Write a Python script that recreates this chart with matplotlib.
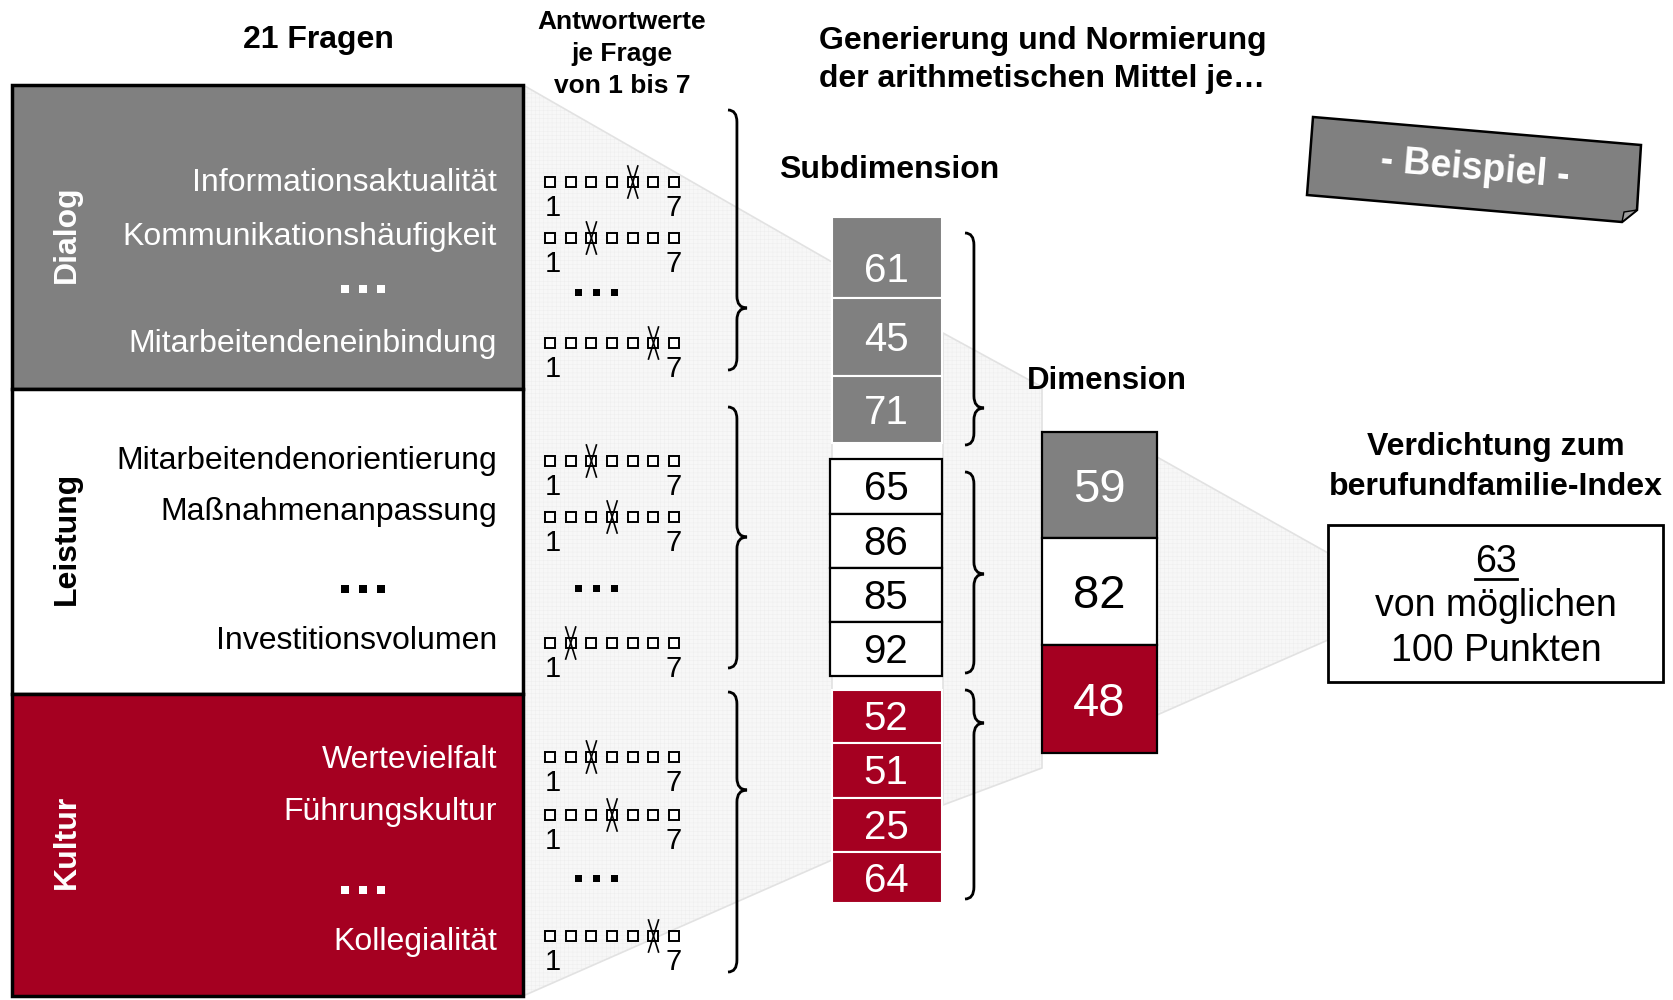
import matplotlib
matplotlib.use('Agg')
import matplotlib.pyplot as plt
from matplotlib.patches import Rectangle, Polygon, PathPatch
from matplotlib.path import Path

plt.rcParams['font.family'] = ['Liberation Sans', 'DejaVu Sans']
plt.rcParams['hatch.linewidth'] = 0.3

GREY = '#808080'
RED = '#A50021'

# --- Daten ---
gruppen = ['Dialog', 'Leistung', 'Kultur']
fragen = [
    ['Informationsaktualität', 'Kommunikationshäufigkeit', 'Mitarbeitendeneinbindung'],
    ['Mitarbeitendenorientierung', 'Maßnahmenanpassung', 'Investitionsvolumen'],
    ['Wertevielfalt', 'Führungskultur', 'Kollegialität'],
]
antworten = [[5, 3, 6], [3, 4, 2], [3, 4, 6]]   # angekreuzter Wert 1..7
subdimension = [[61, 45, 71], [65, 86, 85, 92], [52, 51, 25, 64]]
dimension = [59, 82, 48]
index_wert = 63

# --- Layout (Pixel) ---
box_y = [(85, 389), (389, 694), (694, 996)]
fill = [GREY, 'white', RED]
txt_col = ['white', 'black', 'white']
frage_y = [[183, 237, 344], [461, 512, 641], [760, 812, 942]]
dots_y = [289, 589, 890]
check_y = [[182, 238, 343], [461, 517, 643], [757, 815, 936]]
check_dots_y = [292, 588, 878]
sub_bounds = [[217, 298, 376, 443], [459, 514, 568, 622, 676], [690, 743, 798, 852, 903]]
dim_bounds = [432, 538, 645, 753]

fig = plt.figure(figsize=(16.74, 10), dpi=100)
ax = fig.add_axes([0, 0, 1, 1])
ax.set_xlim(0, 1674)
ax.set_ylim(1000, 0)
ax.axis('off')


def brace(x0, y0, y1, ytip, w=19, r=12, lw=2):
    xm = x0 + w * 0.47
    xt = x0 + w
    verts = [(x0, y0), (xm, y0), (xm, y0 + r), (xm, ytip - r),
             (xm, ytip), (xt, ytip), (xm, ytip), (xm, ytip + r),
             (xm, y1 - r), (xm, y1), (x0, y1)]
    codes = [Path.MOVETO, Path.CURVE3, Path.CURVE3, Path.LINETO,
             Path.CURVE3, Path.CURVE3, Path.CURVE3, Path.CURVE3,
             Path.LINETO, Path.CURVE3, Path.CURVE3]
    ax.add_patch(PathPatch(Path(verts, codes), fill=False, lw=lw, color='black'))


def dots(xc, yc, color, size=8, gap=18):
    for k in (-1, 0, 1):
        ax.add_patch(Rectangle((xc + k * gap - size / 2, yc - size / 2), size, size,
                               facecolor=color, edgecolor='none', zorder=5))


# Trichter im Hintergrund
trichter = [
    [(523, 85), (523, 996), (832, 860), (832, 262)],
    [(943, 333), (943, 805), (1042, 768), (1042, 387)],
    [(1157, 457), (1157, 715), (1328, 640), (1328, 553)],
]
for pts in trichter:
    ax.add_patch(Polygon(pts, facecolor='#f7f7f7', edgecolor='#ededed', hatch='++++',
                         lw=0, zorder=0))
    ax.add_patch(Polygon(pts, fill=False, edgecolor='#e2e2e2', lw=1.2, zorder=0))

# Kopfzeilen
ax.text(318, 40, '21 Fragen', ha='center', va='center', fontsize=23, fontweight='bold')
ax.text(622, 54, 'Antwortwerte\nje Frage\nvon 1 bis 7', ha='center', va='center',
        fontsize=19, fontweight='bold', linespacing=1.4)
ax.text(819, 60, 'Generierung und Normierung\nder arithmetischen Mittel je…',
        ha='left', va='center', fontsize=23, fontweight='bold', linespacing=1.38)
ax.text(889, 170, 'Subdimension', ha='center', va='center', fontsize=23, fontweight='bold')
ax.text(1107, 381, 'Dimension', ha='center', va='center', fontsize=22.5, fontweight='bold')
ax.text(1496, 467, 'Verdichtung zum\nberufundfamilie-Index', ha='center', va='center',
        fontsize=23, fontweight='bold', linespacing=1.4)

# linke Spalte: Gruppen mit Fragen
for g, name in enumerate(gruppen):
    y0, y1 = box_y[g]
    ax.add_patch(Rectangle((12, y0), 511, y1 - y0, facecolor=fill[g],
                           edgecolor='black', lw=2.5, zorder=2))
    ax.text(67, (y0 + y1) / 2 - 3, name, rotation=90, ha='center', va='center',
            fontsize=23, fontweight='bold', color=txt_col[g], zorder=3)
    for f, label in enumerate(fragen[g]):
        ax.text(497, frage_y[g][f], label, ha='right', va='center', fontsize=23,
                color=txt_col[g], zorder=3)
    dots(363, dots_y[g], txt_col[g])

    # Antwortskalen
    for f, wert in enumerate(antworten[g]):
        cy = check_y[g][f]
        for i in range(7):
            x = 545 + i * 20.7
            ax.add_patch(Rectangle((x, cy - 5), 10, 10, facecolor='white',
                                   edgecolor='black', lw=1.4, zorder=3))
        cx = 545 + (wert - 1) * 20.7 + 5
        ax.plot([cx - 5, cx + 5], [cy - 16, cy + 16], color='black', lw=1.2, zorder=4)
        ax.plot([cx + 5, cx - 5], [cy - 16, cy + 16], color='black', lw=1.2, zorder=4)
        ax.text(545, cy + 26, '1', ha='left', va='center', fontsize=21, zorder=4)
        ax.text(682, cy + 26, '7', ha='right', va='center', fontsize=21, zorder=4)
    dots(597, check_dots_y[g], 'black', size=7)

# Klammern links
brace(728, 110, 370, 308)
brace(728, 407, 668, 537)
brace(728, 692, 972, 790)

# Subdimensionen
for g in range(3):
    b = sub_bounds[g]
    for k, val in enumerate(subdimension[g]):
        if g == 1:
            ax.add_patch(Rectangle((830, b[k]), 112, b[k + 1] - b[k], facecolor='white',
                                   edgecolor='black', lw=1.6, zorder=2))
        else:
            ax.add_patch(Rectangle((832, b[k]), 110, b[k + 1] - b[k], facecolor=fill[g],
                                   edgecolor='white', lw=1.5, zorder=2))
        yt = (b[k] + b[k + 1]) / 2 + 3
        if g == 0 and k == 0:
            yt += 10
        ax.text(886, yt, str(val), ha='center', va='center',
                fontsize=29, color=txt_col[g], zorder=3)

# Klammern rechts
brace(965, 233, 445, 408)
brace(965, 472, 673, 574)
brace(965, 690, 899, 723)

# Dimensionen
for g, val in enumerate(dimension):
    y0, y1 = dim_bounds[g], dim_bounds[g + 1]
    ax.add_patch(Rectangle((1042, y0), 115, y1 - y0, facecolor=fill[g],
                           edgecolor='black', lw=1.6, zorder=2))
    ax.text(1099.5, (y0 + y1) / 2 + 5, str(val), ha='center', va='center',
            fontsize=34, color=txt_col[g], zorder=3)

# Index
ax.add_patch(Rectangle((1328, 525), 335, 157, facecolor='white', edgecolor='black',
                       lw=2, zorder=2))
t63 = ax.text(1496, 562, str(index_wert), ha='center', va='center', fontsize=27, zorder=3)
ax.text(1496, 606, 'von möglichen', ha='center', va='center', fontsize=27, zorder=3)
ax.text(1496, 651, '100 Punkten', ha='center', va='center', fontsize=27, zorder=3)
fig.canvas.draw()
bb = t63.get_window_extent(renderer=fig.canvas.get_renderer())
ax.plot([bb.x0, bb.x1], [579, 579], color='black', lw=2, zorder=3)

# Beispiel-Schild
ax.add_patch(Polygon([(1313, 117), (1641, 145), (1637, 210), (1622, 222), (1307, 195)],
                     facecolor=GREY, edgecolor='black', lw=1.8, zorder=2))
ax.add_patch(Polygon([(1622, 222), (1637, 210), (1624, 212)], facecolor='#a0a0a0',
                     edgecolor='black', lw=1, zorder=3))
ax.text(1475, 169, '- Beispiel -', rotation=-4.9, rotation_mode='anchor', ha='center',
        va='center', fontsize=27, fontweight='bold', color='white', zorder=4)

fig.savefig('out.png', dpi=100)
